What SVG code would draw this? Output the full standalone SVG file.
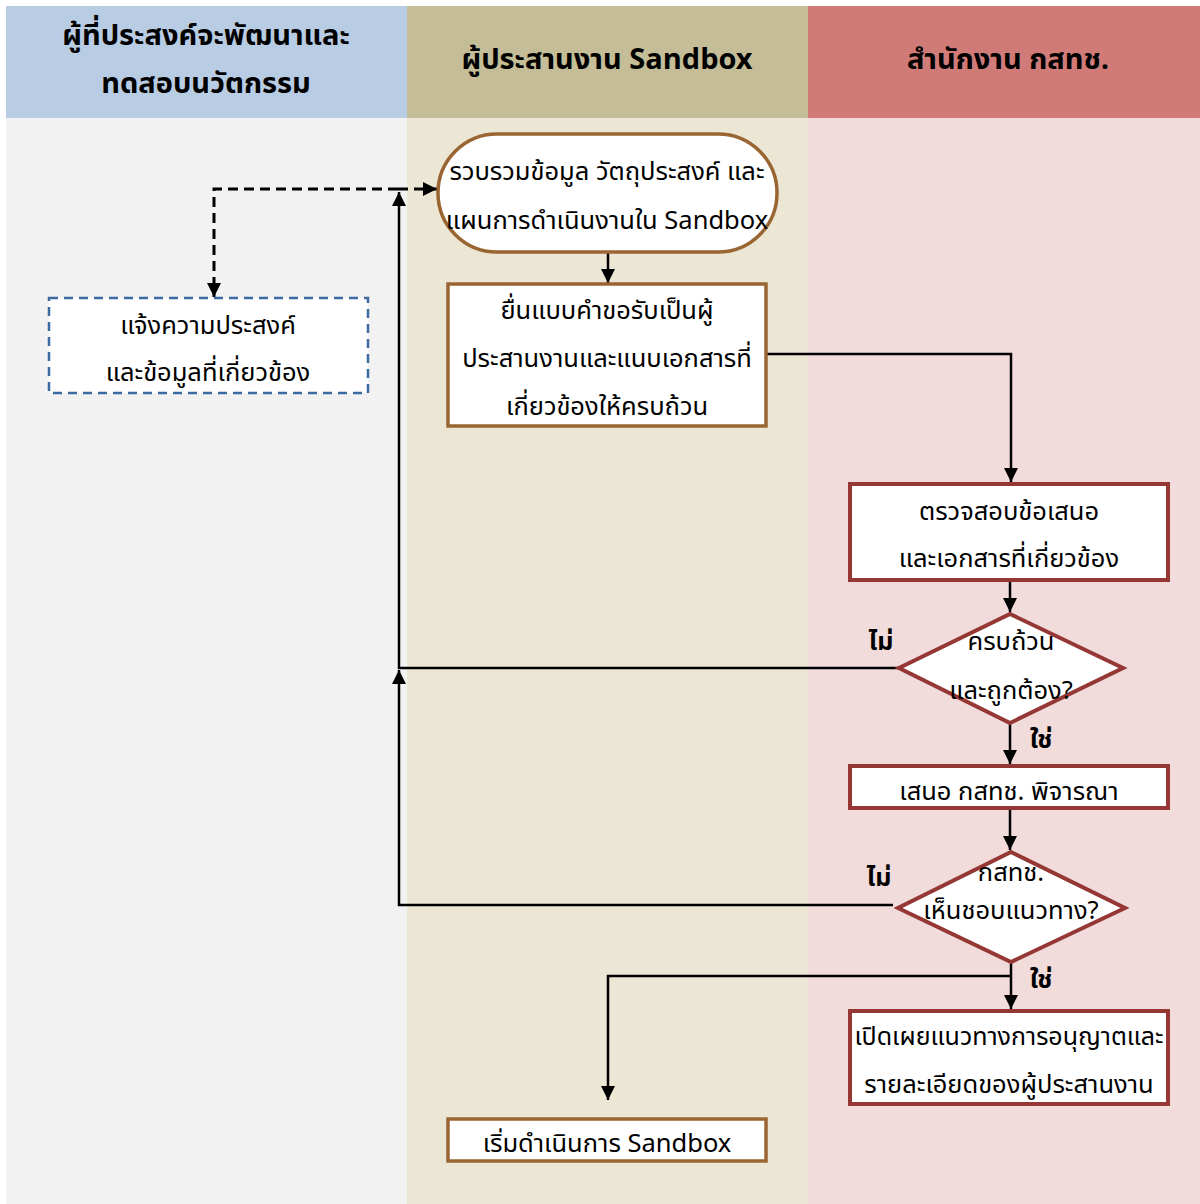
<svg xmlns="http://www.w3.org/2000/svg" width="1200" height="1204" viewBox="0 0 1200 1204">
<defs>
<style>
.hdr{font-family:"Noto Sans Thai","Leelawadee UI",Tahoma,"DejaVu Sans",sans-serif;font-size:29px;font-weight:bold;fill:#000;text-anchor:middle}
.t{font-family:"Noto Sans Thai","Leelawadee UI",Tahoma,"DejaVu Sans",sans-serif;font-size:25.5px;fill:#000;text-anchor:middle}
.lbl{font-family:"Noto Sans Thai","Leelawadee UI",Tahoma,"DejaVu Sans",sans-serif;font-size:25px;font-weight:bold;fill:#000;text-anchor:middle}
.brown{fill:#fff;stroke:#996633;stroke-width:3.5}
.red{fill:#fff;stroke:#953735;stroke-width:4}
.blue{fill:#fff;stroke:#3e6aa3;stroke-width:2.5;stroke-dasharray:9 6}
.ln{fill:none;stroke:#000;stroke-width:2.5}
.dl{fill:none;stroke:#000;stroke-width:3;stroke-dasharray:10 6}
</style>
<marker id="ah" viewBox="0 0 10 10" refX="10" refY="5" markerWidth="14" markerHeight="14" markerUnits="userSpaceOnUse" orient="auto-start-reverse">
<path d="M0,0 L10,5 L0,10 z" fill="#000"/>
</marker>
</defs>
<rect x="0" y="0" width="1200" height="1204" fill="#fff"/>
<g id="lanes">
<rect x="6" y="6" width="401" height="112" fill="#b8cce4"/>
<rect x="6" y="118" width="401" height="1086" fill="#f2f2f2"/>
<rect x="407" y="6" width="401" height="112" fill="#c4bd97"/>
<rect x="407" y="118" width="401" height="1086" fill="#ece6d4"/>
<rect x="808" y="6" width="392" height="112" fill="#d07b78"/>
<rect x="808" y="118" width="392" height="1086" fill="#f2dbdb"/>
<text class="hdr" x="206" y="45">ผู้ที่ประสงค์จะพัฒนาและ</text>
<text class="hdr" x="206" y="93">ทดสอบนวัตกรรม</text>
<text class="hdr" x="607" y="69">ผู้ประสานงาน Sandbox</text>
<text class="hdr" x="1008" y="69">สำนักงาน กสทช.</text>
</g>
<g id="connectors">
<polyline class="dl" points="398,189 214,189 214,297" marker-end="url(#ah)"/>
<line class="dl" x1="398" y1="189" x2="437" y2="189" marker-end="url(#ah)"/>
<polyline class="ln" points="899,668 399,668 399,192" marker-end="url(#ah)"/>
<polyline class="ln" points="893,905 399,905 399,670" marker-end="url(#ah)"/>
<line class="ln" x1="608" y1="253" x2="608" y2="283" marker-end="url(#ah)"/>
<polyline class="ln" points="767,354 1011,354 1011,482" marker-end="url(#ah)"/>
<line class="ln" x1="1010" y1="582" x2="1010" y2="612" marker-end="url(#ah)"/>
<line class="ln" x1="1010" y1="724" x2="1010" y2="764" marker-end="url(#ah)"/>
<line class="ln" x1="1010" y1="810" x2="1010" y2="850" marker-end="url(#ah)"/>
<line class="ln" x1="1011" y1="963" x2="1011" y2="1009" marker-end="url(#ah)"/>
<polyline class="ln" points="1011,976 608,976 608,1100" marker-end="url(#ah)"/>
<text class="lbl" x="881" y="650">ไม่</text>
<text class="lbl" x="1041" y="748">ใช่</text>
<text class="lbl" x="879" y="886">ไม่</text>
<text class="lbl" x="1041" y="988">ใช่</text>
</g>
<g id="n1">
<rect class="brown" x="438" y="134" width="339" height="118" rx="59" ry="59"/>
<text class="t" x="607" y="180">รวบรวมข้อมูล วัตถุประสงค์ และ</text>
<text class="t" x="607" y="229">แผนการดำเนินงานใน Sandbox</text>
</g>
<g id="n2">
<rect class="blue" x="49" y="298" width="319" height="95"/>
<text class="t" x="208" y="334">แจ้งความประสงค์</text>
<text class="t" x="208" y="381">และข้อมูลที่เกี่ยวข้อง</text>
</g>
<g id="n3">
<rect class="brown" x="448" y="284" width="318" height="142"/>
<text class="t" x="607" y="319">ยื่นแบบคำขอรับเป็นผู้</text>
<text class="t" x="607" y="367">ประสานงานและแนบเอกสารที่</text>
<text class="t" x="607" y="415">เกี่ยวข้องให้ครบถ้วน</text>
</g>
<g id="n4">
<rect class="red" x="850" y="484" width="318" height="96"/>
<text class="t" x="1009" y="520">ตรวจสอบข้อเสนอ</text>
<text class="t" x="1009" y="567">และเอกสารที่เกี่ยวข้อง</text>
</g>
<g id="n5">
<polygon class="red" points="1010,614 1123,668 1010,723 899,668"/>
<text class="t" x="1011" y="650">ครบถ้วน</text>
<text class="t" x="1011" y="699">และถูกต้อง?</text>
</g>
<g id="n6">
<rect class="red" x="850" y="766" width="318" height="42"/>
<text class="t" x="1009" y="800">เสนอ กสทช. พิจารณา</text>
</g>
<g id="n7">
<polygon class="red" points="1011,852 1125,908 1011,962 898,908"/>
<text class="t" x="1011" y="881">กสทช.</text>
<text class="t" x="1011" y="919">เห็นชอบแนวทาง?</text>
</g>
<g id="n8">
<rect class="red" x="850" y="1011" width="318" height="93"/>
<text class="t" x="1009" y="1045" style="font-size:25px">เปิดเผยแนวทางการอนุญาตและ</text>
<text class="t" x="1009" y="1093">รายละเอียดของผู้ประสานงาน</text>
</g>
<g id="n9">
<rect class="brown" x="448" y="1119" width="318" height="42"/>
<text class="t" x="607" y="1152">เริ่มดำเนินการ Sandbox</text>
</g>
</svg>
